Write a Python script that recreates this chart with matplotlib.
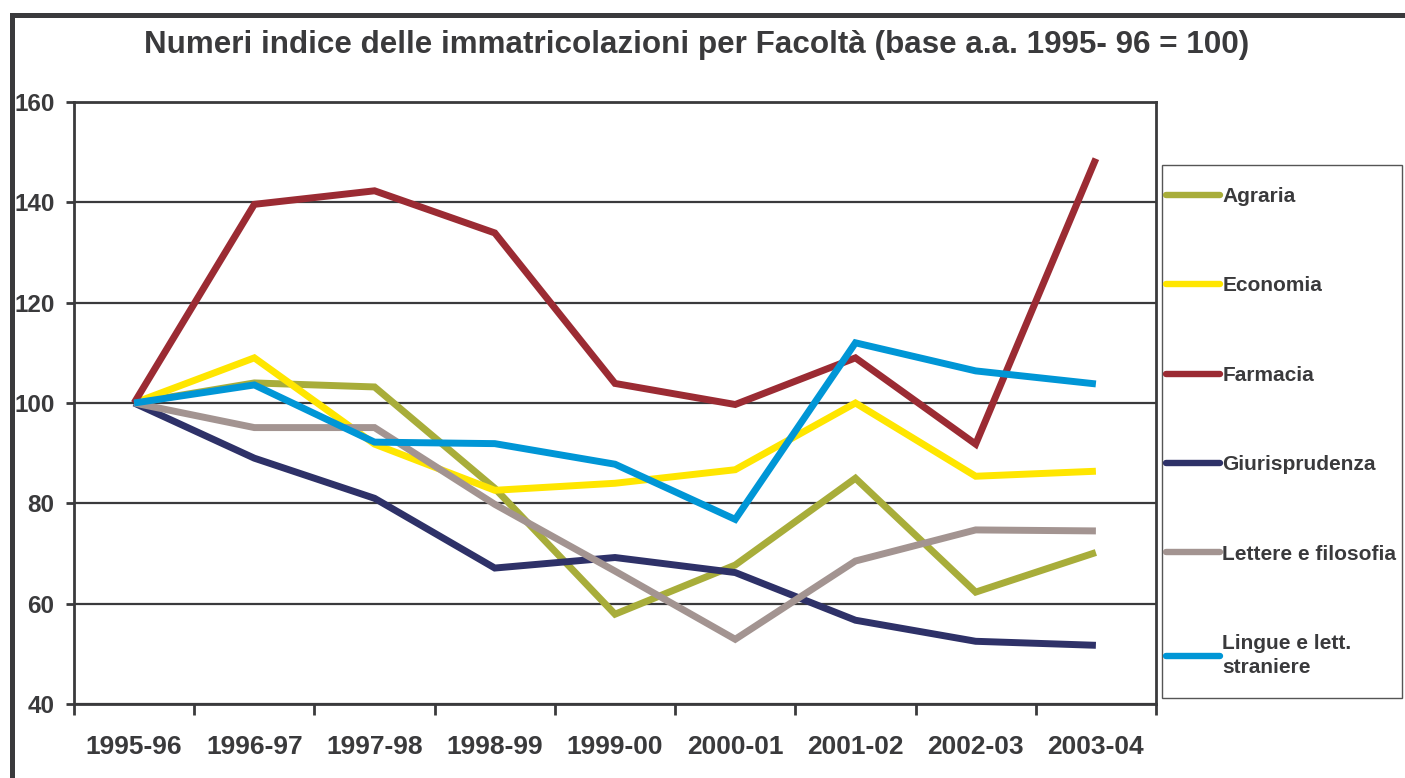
import matplotlib
matplotlib.use("Agg")
import matplotlib.pyplot as plt
from matplotlib.patches import Rectangle

# Dati
anni = ["1995-96", "1996-97", "1997-98", "1998-99", "1999-00",
        "2000-01", "2001-02", "2002-03", "2003-04"]

agraria = [100, 104.0, 103.2, 83.0, 57.9, 67.7, 85.0, 62.3, 70.2]
economia = [100, 109.0, 91.8, 82.6, 84.0, 86.7, 100.0, 85.4, 86.4]
farmacia = [100, 139.6, 142.3, 133.9, 103.9, 99.7, 109.0, 91.8, 148.7]
giurisprudenza = [100, 89.0, 81.0, 67.1, 69.2, 66.2, 56.7, 52.5, 51.7]
lettere = [100, 95.1, 95.1, 79.8, 66.5, 52.9, 68.5, 74.7, 74.5]
lingue = [100, 103.6, 92.2, 91.9, 87.8, 76.8, 112.0, 106.4, 103.8]

serie = [
    ("Agraria", agraria, "#A8AD3A"),
    ("Economia", economia, "#FFE600"),
    ("Farmacia", farmacia, "#9B2B33"),
    ("Giurisprudenza", giurisprudenza, "#2E3168"),
    ("Lettere e filosofia", lettere, "#A39491"),
    ("Lingue e lett.\nstraniere", lingue, "#0096D6"),
]

testo = "#3a3a3c"
plt.rcParams["font.family"] = ["Liberation Sans", "DejaVu Sans"]
plt.rcParams["font.weight"] = "bold"

fig = plt.figure(figsize=(14.05, 7.78), dpi=100)
W, H = 1405, 778
ax = fig.add_axes([74 / W, 1 - 704 / H, (1156 - 74) / W, (704 - 102) / H])

x = list(range(len(anni)))
linee = []
for nome, valori, colore in serie:
    (l,) = ax.plot(x, valori, color=colore, lw=5, label=nome,
                   solid_joinstyle="miter", solid_capstyle="butt")
    linee.append(l)

ax.set_xlim(-0.5, len(anni) - 0.5)
ax.set_ylim(40, 160)
ax.set_yticks(range(40, 161, 20))
ax.set_xticks([i - 0.5 for i in range(len(anni) + 1)], minor=False)
ax.set_xticklabels([])
ax.set_xticks(x, minor=True)
ax.set_xticklabels(anni, minor=True, fontsize=19, fontweight="bold", color=testo)
ax.tick_params(axis="x", which="minor", length=0, pad=22)
ax.tick_params(axis="x", which="major", length=8, width=2, color=testo, direction="out")
ax.tick_params(axis="y", length=6, width=2, color=testo, labelsize=17.5,
               labelcolor=testo, pad=8)
for lab in ax.get_yticklabels():
    lab.set_fontweight("bold")

ax.yaxis.grid(True, color=testo, lw=1.6)
ax.set_axisbelow(True)
for s in ax.spines.values():
    s.set_color(testo)
    s.set_linewidth(2)

fig.text(697 / W, 1 - 45 / H,
         "Numeri indice delle immatricolazioni per Facoltà (base a.a. 1995- 96 = 100)",
         ha="center", va="center", fontsize=22.6, fontweight="bold", color=testo)

# cornice esterna
fig.patches.append(Rectangle((12 / W, -0.1), 1.2, 1 - 14.5 / H + 0.1,
                             transform=fig.transFigure, fill=False,
                             edgecolor=testo, lw=3.6))

# riquadro legenda
fig.patches.append(Rectangle((1162 / W, 1 - 698 / H), 240 / W, 533 / H,
                             transform=fig.transFigure, fill=False,
                             edgecolor="#555555", lw=1))

leg = fig.legend(handles=linee, loc="upper left",
                 bbox_to_anchor=(1166 / W, 1 - 187 / H), frameon=False,
                 fontsize=15, handlelength=2.6, handletextpad=0.1,
                 labelspacing=3.38, borderpad=0, borderaxespad=0)
for t in leg.get_texts():
    t.set_color(testo)
    t.set_fontweight("bold")
    t.set_linespacing(1.35)
for h in leg.legend_handles:
    h.set_solid_capstyle("round")
    h.set_linewidth(4.6)

fig.savefig("out.png", dpi=100)
